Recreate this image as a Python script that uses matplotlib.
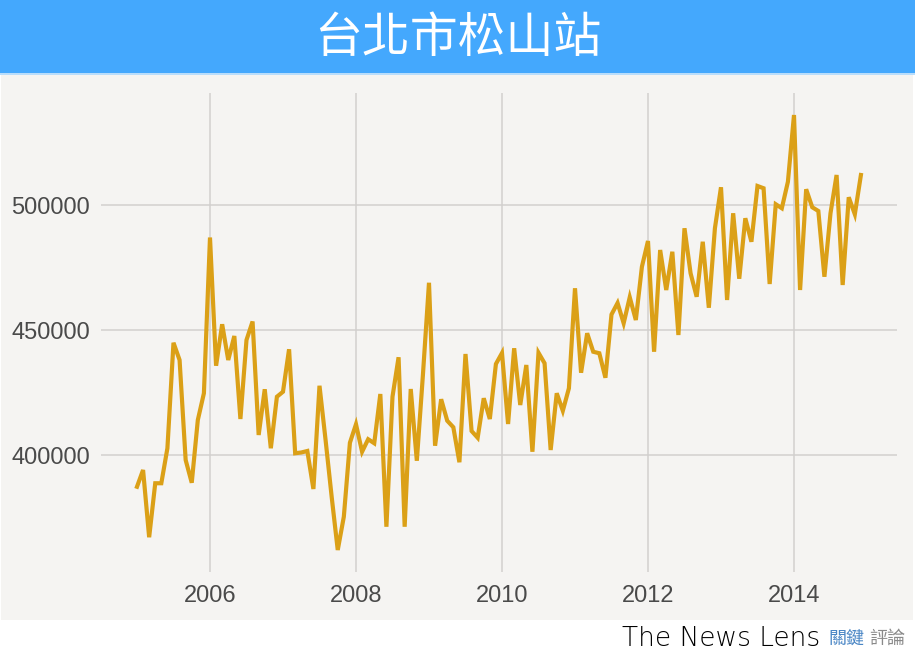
import numpy as np
import matplotlib
matplotlib.use("Agg")
import matplotlib.pyplot as plt
from matplotlib.patches import Rectangle

# monthly values, Jan 2005 .. Dec 2014
start_year = 2005
values = [
    387300, 394000, 367100, 388700, 388700, 402700, 444900, 438000, 398000, 388900, 414000, 424700,
    487000, 435700, 452300, 438000, 447600, 414400, 446000, 453400, 408000, 426300, 402700, 423300,
    425300, 442300, 400700, 401000, 401600, 386400, 427700, 406000, 383300, 362000, 375300, 404900,
    412300, 401300, 406300, 404700, 424400, 371300, 423300, 439100, 371300, 426400, 397700, 432000,
    468900, 403700, 422300, 413700, 411100, 397100, 440400, 409600, 406900, 422700, 414400, 436400,
    440800, 412400, 442700, 420000, 436000, 401300, 440900, 436700, 402000, 424700, 417700, 426700,
    466700, 432900, 448700, 441300, 440700, 430900, 456200, 460800, 452700, 463100, 454000, 475300,
    485600, 441300, 482000, 466000, 481300, 448000, 490700, 472700, 463300, 485300, 458900, 490700,
    507100, 462000, 496700, 470500, 494700, 485300, 507600, 506700, 468400, 500300, 498700, 509300,
    536000, 466000, 506300, 499100, 497600, 471300, 496700, 512000, 468000, 503100, 496300, 512000,
]
x_ticks = [2006, 2008, 2010, 2012, 2014]
y_ticks = [400000, 450000, 500000]
title = "台北市松山站"

W, H = 915, 657
fig = plt.figure(figsize=(W / 100, H / 100), dpi=100)
fig.patch.set_facecolor("white")

# header bar and grey panel (behind the axes)
fig.add_artist(Rectangle((0, 1 - 73 / H), 1, 73 / H, transform=fig.transFigure,
                         facecolor="#44A8FD", edgecolor="none", zorder=-10))
fig.add_artist(Rectangle((0, 1 - 75 / H), 1, 2 / H, transform=fig.transFigure,
                         facecolor="#B9DDFB", edgecolor="none", zorder=-10))
fig.add_artist(Rectangle((1 / W, 1 - 620 / H), 912 / W, 545 / H, transform=fig.transFigure,
                         facecolor="#F5F4F2", edgecolor="none", zorder=-10))

fig.text(0.5, 1 - 38 / H, title, color="white", fontsize=34.5, ha="center", va="center",
         family=["Noto Sans CJK TC", "DejaVu Sans"], fontweight="medium")

ax = fig.add_axes([101 / W, 1 - 572 / H, 796 / W, 479 / H])
ax.set_facecolor("none")

x = start_year + np.arange(len(values)) / 12
ax.plot(x, values, color="#DBA017", lw=3.0, solid_joinstyle="miter", zorder=3)

ax.set_xlim(2004.507, 2015.411)
ax.set_ylim(353200, 544800)
ax.set_xticks(x_ticks)
ax.set_yticks(y_ticks)
ax.set_xticklabels([str(t) for t in x_ticks])
ax.set_yticklabels([str(t) for t in y_ticks])
ax.grid(True, color="#D2D0CE", lw=1.1)
ax.set_axisbelow(True)
for s in ax.spines.values():
    s.set_visible(False)
ax.tick_params(length=0, labelsize=17, labelcolor="#4A4A4A")
ax.tick_params(axis="y", pad=8)
ax.tick_params(axis="x", pad=9)
for lab in ax.get_xticklabels() + ax.get_yticklabels():
    lab.set_family("Liberation Sans")

# footer
fig.text(820 / W, 1 - 638 / H, "The News Lens", fontsize=19, color="#000000",
         ha="right", va="center", family="DejaVu Sans", fontweight="light")
fig.text(828 / W, 1 - 639 / H, "關鍵", fontsize=13, color="#4A86C5",
         ha="left", va="center", family="Noto Sans CJK TC", fontweight="medium")
fig.text(869 / W, 1 - 639 / H, "評論", fontsize=13, color="#8A8A8A",
         ha="left", va="center", family="Noto Sans CJK TC")

fig.savefig("out.png", dpi=100)
